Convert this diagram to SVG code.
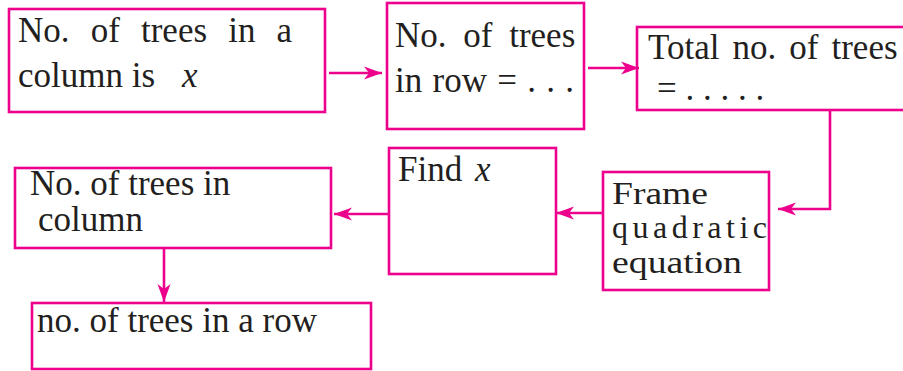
<svg xmlns="http://www.w3.org/2000/svg" width="903" height="371" viewBox="0 0 903 371">
<style>
.box{fill:none;stroke:#EC008C;stroke-width:2.6}
.con{fill:none;stroke:#EC008C;stroke-width:2.6}
text{font-family:"Liberation Serif","Times New Roman",serif;font-size:35px;fill:#231F20}
.it{font-style:italic}
.sm{font-size:32px}
</style>
<defs>
<marker id="ah" markerUnits="userSpaceOnUse" markerWidth="18" markerHeight="13" refX="18" refY="6.5" orient="auto" overflow="visible">
<path d="M0,0 L18,6.5 L0,13 L5,6.5 Z" fill="#EC008C"/>
</marker>
</defs>
<rect width="903" height="371" fill="#ffffff"/>
<g id="n1">
<rect class="box" x="9" y="9" width="316" height="103"/>
<text x="18" y="42" word-spacing="12.4">No. of trees in a</text>
<text x="18" y="87">column is</text>
<text class="it" x="182" y="87">x</text>
</g>
<g id="n2">
<rect class="box" x="387" y="3" width="197" height="126"/>
<text x="395" y="47" word-spacing="8">No. of trees</text>
<text x="395" y="92" word-spacing="1.5">in row = . . .</text>
</g>
<g id="n3">
<rect class="box" x="637" y="27" width="280" height="83"/>
<text x="648" y="59" word-spacing="4.3">Total no. of trees</text>
<text x="657" y="100">= . . . . .</text>
</g>
<g id="n4">
<rect class="box" x="603" y="172" width="166" height="118"/>
<text class="sm" x="612" y="204" textLength="96" lengthAdjust="spacingAndGlyphs">Frame</text>
<text class="sm" x="612" y="238" textLength="155" lengthAdjust="spacing">quadratic</text>
<text class="sm" x="612" y="273" textLength="130" lengthAdjust="spacingAndGlyphs">equation</text>
</g>
<g id="n5">
<rect class="box" x="389" y="148" width="167" height="126"/>
<text x="398" y="181">Find</text>
<text class="it" x="475" y="181">x</text>
</g>
<g id="n6">
<rect class="box" x="15" y="168" width="316" height="80"/>
<text x="30" y="195">No. of trees in</text>
<text x="38" y="231">column</text>
</g>
<g id="n7">
<rect class="box" x="32" y="303" width="339" height="66"/>
<text x="37" y="332">no. of trees in a row</text>
</g>
<g id="connectors">
<line class="con" x1="329" y1="73" x2="382" y2="73" marker-end="url(#ah)"/>
<line class="con" x1="588" y1="68" x2="639" y2="68" marker-end="url(#ah)"/>
<polyline class="con" points="830,110 830,209 778,209" marker-end="url(#ah)"/>
<line class="con" x1="603" y1="213" x2="556" y2="213" marker-end="url(#ah)"/>
<line class="con" x1="389" y1="214" x2="334" y2="214" marker-end="url(#ah)"/>
<line class="con" x1="164" y1="248" x2="164" y2="302" marker-end="url(#ah)"/>
</g>
</svg>
